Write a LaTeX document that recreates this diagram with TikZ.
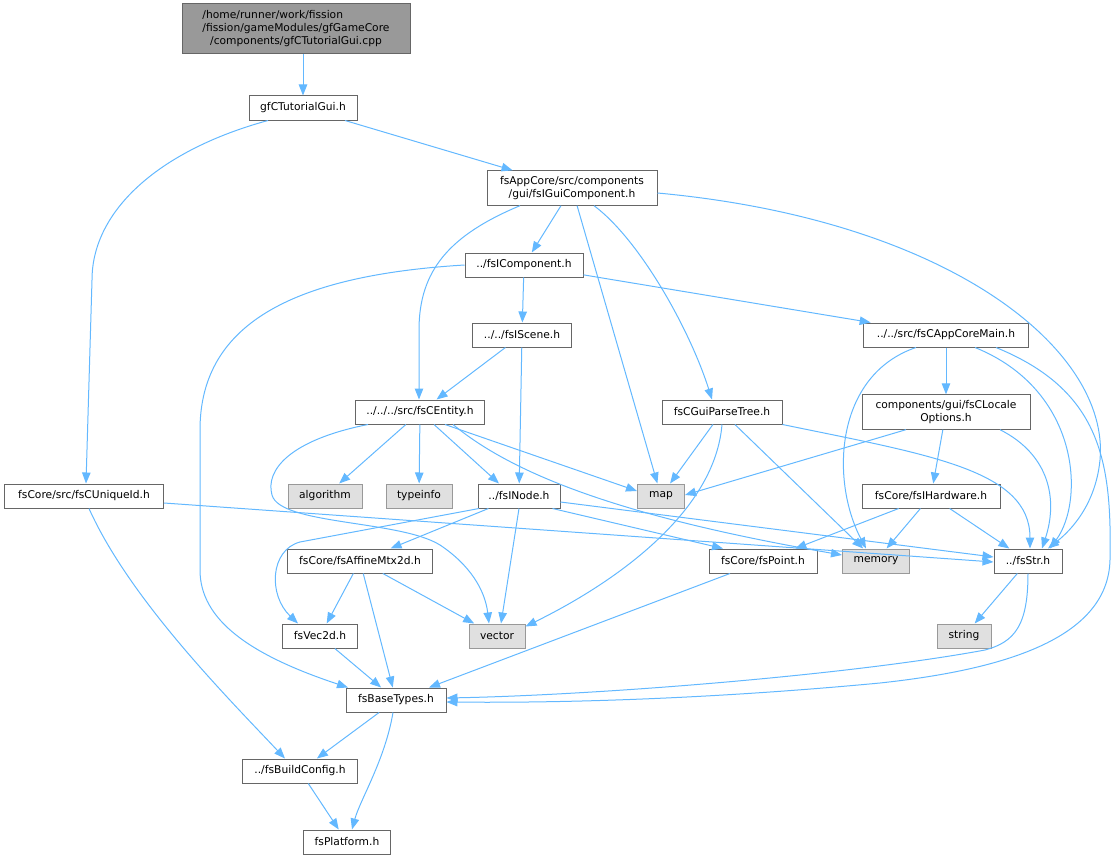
\documentclass[tikz,border=0pt]{standalone}
\usepackage{fontspec}
\setmainfont{DejaVu Sans}
\usetikzlibrary{arrows.meta}
\definecolor{edgeblue}{HTML}{63B8FF}
\definecolor{boxgray}{HTML}{666666}
\definecolor{extgray}{HTML}{999999}
\definecolor{extfill}{HTML}{E0E0E0}

\begin{document}
\begin{tikzpicture}[x=1pt,y=-1pt,
		header/.style={ % box of one header file
			draw=boxgray, fill=white, line width=1pt,
			minimum height=24pt, inner xsep=4pt, inner ysep=5.5pt,
			align=center, font=\fontsize{10.7}{13}\selectfont
		},
		syshdr/.style={header, draw=extgray, fill=extfill},
		rootfile/.style={header, fill=extgray},
		dep/.style={draw=edgeblue, line width=1pt, -{Triangle[length=11pt,width=8.5pt]}}
		]
		\useasboundingbox (0,0) rectangle (1120,859);

		%% rows 1-5
		\node[rootfile, minimum width=228pt, minimum height=48pt] (src) at (296,29)
			{\begin{tabular}{@{}l@{}}/home/runner/work/fission\\/fission/gameModules/gfGameCore\\\multicolumn{1}{@{}c@{}}{/components/gfCTutorialGui.cpp}\end{tabular}};
		\node[header, minimum width=108pt] (tut) at (303,108) {gfCTutorialGui.h};
		\node[header, minimum width=170pt] (gui) at (572,188) {fsAppCore/src/components\\/gui/fsIGuiComponent.h};
		\node[header, minimum width=118pt] (comp) at (524,265) {../fsIComponent.h};
		\node[header, minimum width=99pt] (scene) at (522,335) {../../fsIScene.h};
		\node[header, minimum width=165pt] (appmain) at (946,335) {../../src/fsCAppCoreMain.h};

		%% rows 6-7
		\node[header, minimum width=129pt] (entity) at (420,412) {../../../src/fsCEntity.h};
		\node[header, minimum width=120pt] (parse) at (722,412) {fsCGuiParseTree.h};
		\node[header, minimum width=168pt] (locale) at (946,412) {components/gui/fsCLocale\\Options.h};
		\node[header, minimum width=159pt] (uid) at (84,496) {fsCore/src/fsCUniqueId.h};
		\node[syshdr, minimum width=74pt] (algo) at (325,496) {algorithm};
		\node[syshdr, minimum width=66pt] (tinfo) at (419,496) {typeinfo};
		\node[header, minimum width=82pt] (inode) at (519,496) {../fsINode.h};
		\node[syshdr, minimum width=47pt] (map) at (661,496) {map};
		\node[header, minimum width=138pt] (hw) at (931,496) {fsCore/fsIHardware.h};

		%% rows 8-12
		\node[header, minimum width=145pt] (affine) at (360,561) {fsCore/fsAffineMtx2d.h};
		\node[header, minimum width=108pt] (point) at (763,561) {fsCore/fsPoint.h};
		\node[syshdr, minimum width=67pt] (memory) at (876,561) {memory};
		\node[header, minimum width=68pt] (str) at (1028,561) {../fsStr.h};
		\node[header, minimum width=75pt] (vec) at (320,636) {fsVec2d.h};
		\node[syshdr, minimum width=56pt] (vector) at (497,636) {vector};
		\node[syshdr, minimum width=54pt] (string) at (964,636) {string};
		\node[header, minimum width=100pt] (types) at (396,700) {fsBaseTypes.h};
		\node[header, minimum width=115pt] (build) at (300,771) {../fsBuildConfig.h};
		\node[header, minimum width=87pt] (platform) at (347,842) {fsPlatform.h};

		%% gfCTutorialGui
		\draw[dep] (src.south -| tut.north) -- (tut.north);
		\draw[dep] (tut) -- (gui);
		\draw[dep] ([xshift=-35pt]tut.south) .. controls (160,150) and (92,210) .. (92,280) -- ([xshift=2pt]uid.north);

		%% fsIGuiComponent
		\draw[dep] ([xshift=-52pt]gui.south) .. controls (450,235) and (419,270) .. (419,330) -- ([xshift=-1pt]entity.north);
		\draw[dep] (gui) -- (comp);
		\draw[dep] (gui) -- (map);
		\draw[dep] ([xshift=22pt]gui.south) .. controls (640,240) and (690,330) .. ([xshift=-10pt]parse.north);
		\draw[dep] ([yshift=-5pt]gui.east) .. controls (950,220) and (1110,350) .. (1100,460) .. controls (1095,510) and (1065,535) .. ([xshift=20pt]str.north);

		%% fsIComponent, fsIScene
		\draw[dep] (comp) -- (scene);
		\draw[dep] (comp) -- (appmain);
		\draw[dep] (comp.west) .. controls (300,275) and (200,320) .. (200,430) -- (200,570) .. controls (200,620) and (250,655) .. ([xshift=-48pt]types.north);
		\draw[dep] (scene) -- (entity);
		\draw[dep] (scene) -- (inode);

		%% fsCEntity
		\draw[dep] (entity) -- (algo);
		\draw[dep] (entity) -- (tinfo);
		\draw[dep] ([xshift=14pt]entity.south) -- ([xshift=-20pt]inode.north);
		\draw[dep] ([xshift=25pt]entity.south) -- ([yshift=5pt]map.west);
		\draw[dep] ([xshift=33pt]entity.south) .. controls (520,480) and (640,520) .. ([yshift=6pt]memory.west);
		\draw[dep] ([xshift=-52pt]entity.south) .. controls (290,440) and (265,470) .. (272,495) .. controls (280,525) and (400,520) .. (440,545) .. controls (470,565) and (485,590) .. ([xshift=-8pt]vector.north);

		%% fsINode
		\draw[dep] ([xshift=-40pt]inode.south) -- (300,542) .. controls (270,550) and (268,595) .. ([xshift=-22pt]vec.north);
		\draw[dep] (inode) -- (affine);
		\draw[dep] (inode.south) -- ([xshift=4pt]vector.north);
		\draw[dep] ([xshift=-8pt]inode.south east) -- ([xshift=-40pt]point.north);
		\draw[dep] ([yshift=-6pt]inode.east) -- ([yshift=4pt]str.west);

		%% fsCUniqueId
		\draw[dep] ([yshift=-7pt]uid.east) -- ([yshift=-1pt]str.west);
		\draw[dep] ([xshift=5pt]uid.south) .. controls (130,600) and (230,700) .. ([xshift=-15pt]build.north);

		%% fsCGuiParseTree
		\draw[dep] (parse) -- (map);
		\draw[dep] (parse.south) .. controls (715,510) and (620,580) .. ([yshift=-3pt]vector.north east);
		\draw[dep] (parse) -- (memory);
		\draw[dep] (parse.south east) .. controls (930,455) and (1030,470) .. ([xshift=2pt]str.north);

		%% fsCAppCoreMain
		\draw[dep] (appmain) -- (locale);
		\draw[dep] ([xshift=-30pt]appmain.south) .. controls (835,375) and (830,480) .. ([xshift=-10pt]memory.north);
		\draw[dep] ([xshift=29pt]appmain.south) .. controls (1080,390) and (1085,500) .. ([xshift=22pt]str.north);
		\draw[dep] ([xshift=50pt]appmain.south) .. controls (1100,390) and (1112,460) .. (1110,560) .. controls (1108,640) and (1000,670) .. (880,683) .. controls (700,700) and (550,703) .. ([yshift=-2pt]types.east);

		%% fsCLocaleOptions, fsIHardware
		\draw[dep] ([xshift=-40pt]locale.south) -- ([yshift=1pt]map.east);
		\draw[dep] (locale) -- (hw);
		\draw[dep] ([xshift=54pt]locale.south) .. controls (1050,455) and (1058,500) .. ([xshift=14pt]str.north);
		\draw[dep] (hw) -- (point);
		\draw[dep] (hw) -- (memory);
		\draw[dep] (hw) -- (str);

		%% lower part
		\draw[dep] (point) -- (types);
		\draw[dep] (affine) -- (vec);
		\draw[dep] (affine) -- (vector);
		\draw[dep] (affine) -- (types);
		\draw[dep] (vec) -- (types);
		\draw[dep] (str) -- (string);
		\draw[dep] (str.south) .. controls (1028,625) and (1015,642) .. (985,650) .. controls (850,675) and (600,695) .. ([yshift=2pt]types.east);
		\draw[dep] (types) -- (build);
		\draw[dep] ([xshift=-3pt]types.south) .. controls (385,760) and (360,800) .. ([xshift=5pt]platform.north);
		\draw[dep] (build) -- (platform);
\end{tikzpicture}
\end{document}
